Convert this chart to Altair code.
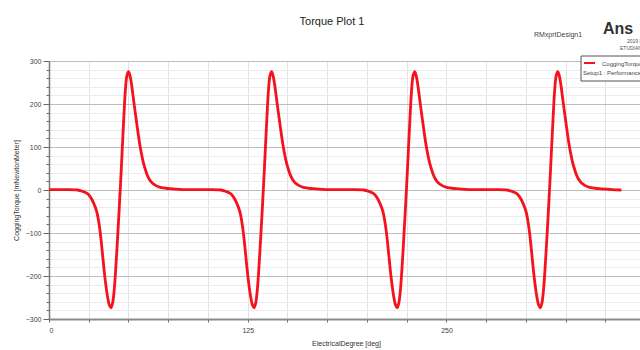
import altair as alt
import pandas as pd

# Electrical degree positions (deg), four cogging periods
electrical_degree = [
    0, 10, 18, 21, 24, 26, 28, 30, 31, 32, 33, 34, 35, 36, 37, 38, 39, 40, 41, 42, 43, 44,
    45, 46, 47, 48, 49, 50, 51, 52, 53, 54, 55, 56, 57, 58, 59, 60, 62, 64, 66, 70, 76, 84,
    90, 100, 108, 111, 114, 116, 118, 120, 121, 122, 123, 124, 125, 126, 127, 128, 129, 130, 131, 132, 133, 134,
    135, 136, 137, 138, 139, 140, 141, 142, 143, 144, 145, 146, 147, 148, 149, 150, 152, 154, 156, 160, 166, 174,
    180, 190, 198, 201, 204, 206, 208, 210, 211, 212, 213, 214, 215, 216, 217, 218, 219, 220, 221, 222, 223, 224,
    225, 226, 227, 228, 229, 230, 231, 232, 233, 234, 235, 236, 237, 238, 239, 240, 242, 244, 246, 250, 256, 264,
    270, 280, 288, 291, 294, 296, 298, 300, 301, 302, 303, 304, 305, 306, 307, 308, 309, 310, 311, 312, 313, 314,
    315, 316, 317, 318, 319, 320, 321, 322, 323, 324, 325, 326, 327, 328, 329, 330, 332, 334, 336, 340, 346, 354,
    360,
]

# Cogging torque (mNewtonMeter)
cogging_torque = [
    1, 1, 0, -3, -8, -16, -30, -50, -68, -92, -125, -162, -198, -228, -252, -268, -274, -263, -233, -182, -120, -55,
    15, 90, 165, 230, 266, 275, 265, 243, 215, 187, 160, 133, 108, 87, 69, 55, 33, 20, 13, 6, 3, 1,
    1, 1, 0, -3, -8, -16, -30, -50, -68, -92, -125, -162, -198, -228, -252, -268, -274, -263, -233, -182, -120, -55,
    15, 90, 165, 230, 266, 275, 265, 243, 215, 187, 160, 133, 108, 87, 69, 55, 33, 20, 13, 6, 3, 1,
    1, 1, 0, -3, -8, -16, -30, -50, -68, -92, -125, -162, -198, -228, -252, -268, -274, -263, -233, -182, -120, -55,
    15, 90, 165, 230, 266, 275, 265, 243, 215, 187, 160, 133, 108, 87, 69, 55, 33, 20, 13, 6, 3, 1,
    1, 1, 0, -3, -8, -16, -30, -50, -68, -92, -125, -162, -198, -228, -252, -268, -274, -263, -233, -182, -120, -55,
    15, 90, 165, 230, 266, 275, 265, 243, 215, 187, 160, 133, 108, 87, 69, 55, 33, 20, 13, 6, 3, 1,
    0,
]

x_tick_values = list(range(0, 376, 25))
y_tick_values = list(range(-300, 301, 20))

title_text = "Torque Plot 1"
design_text = "RMxprtDesign1"
logo_text = "Ans"
version_text = "2019 R1"
edition_text = "ETUDIANT"
legend_line1 = "CoggingTorque"
legend_line2 = "Setup1 : Performance"

df = pd.DataFrame({"deg": electrical_degree, "torque": cogging_torque})

FONT = "Liberation Sans"

line = alt.Chart(df).mark_line(
    color="#f5121c", strokeWidth=2.8, interpolate="catmull-rom"
).encode(
    x=alt.X(
        "deg:Q",
        scale=alt.Scale(domain=[0, 371.7], nice=False, zero=False),
        axis=alt.Axis(
            title="ElectricalDegree [deg]",
            values=x_tick_values,
            labelExpr="datum.value % 125 === 0 ? datum.label : ''",
            grid=True,
            gridColor="#e2e2e2",
            gridWidth=1,
            domainColor="#8a8a8a",
            domainWidth=2,
            tickColor="#666",
            tickSize=3,
            labelFont=FONT,
            labelFontSize=7,
            labelColor="#444",
            labelPadding=4,
            titleFont=FONT,
            titleFontSize=7,
            titleFontWeight="normal",
            titleColor="#333",
            titleX=297,
            titleY=24,
            titleBaseline="middle",
        ),
    ),
    y=alt.Y(
        "torque:Q",
        scale=alt.Scale(domain=[-300, 300], nice=False),
        axis=alt.Axis(
            title="CoggingTorque [mNewtonMeter]",
            values=y_tick_values,
            labelExpr="datum.value % 100 === 0 ? datum.label : ''",
            grid=True,
            gridColor={"condition": {"test": "datum.value % 100 === 0", "value": "#bdbdbd"}, "value": "#ebebeb"},
            gridWidth=1,
            domainColor="#777",
            domainWidth=1.5,
            tickColor="#666",
            tickSize={"condition": {"test": "datum.value % 100 === 0", "value": 6}, "value": 3},
            labelFont=FONT,
            labelFontSize=7,
            labelColor="#444",
            labelPadding=2,
            titleFont=FONT,
            titleFontSize=7,
            titleFontWeight="normal",
            titleColor="#333",
            titleX=-33,
            titleY=129,
            titleBaseline="middle",
        ),
    ),
)

def label(text, x, y, size, align="left", color="#333", weight="normal"):
    return alt.Chart(pd.DataFrame({"t": [text]})).mark_text(
        font=FONT, fontSize=size, align=align, baseline="middle", color=color, fontWeight=weight
    ).encode(text="t:N", x=alt.value(x), y=alt.value(y))

title = label(title_text, 283, -39, 11, align="center", color="#222")
design = label(design_text, 509, -26, 7, align="center", color="#444")
logo = label(logo_text, 554, -32, 16, color="#333", weight="bold")
version = label(version_text, 578, -20, 5, color="#555")
edition = label(edition_text, 571, -13, 5, color="#555")

legend_box = alt.Chart(pd.DataFrame({"t": [legend_line1]})).mark_rect(
    fill="white", stroke="#555", strokeWidth=1
).encode(x=alt.value(532), x2=alt.value(600), y=alt.value(-5), y2=alt.value(20))

legend_swatch = alt.Chart(pd.DataFrame({"t": [legend_line1]})).mark_rule(
    color="#f5121c", strokeWidth=2
).encode(x=alt.value(535), x2=alt.value(546), y=alt.value(2))

leg1 = label(legend_line1, 553, 3, 6, color="#444")
leg2 = label(legend_line2, 534, 12, 6, color="#444")

chart = alt.layer(
    line, title, design, logo, version, edition, legend_box, legend_swatch, leg1, leg2
).properties(
    width=591,
    height=258,
    autosize=alt.AutoSizeParams(type="none"),
    padding={"left": 49, "top": 61, "right": 0, "bottom": 31},
    background="white",
).configure_view(stroke="#9a9a9a", strokeWidth=1)

chart.save("out.html", embed_options={"renderer": "svg", "actions": False})
